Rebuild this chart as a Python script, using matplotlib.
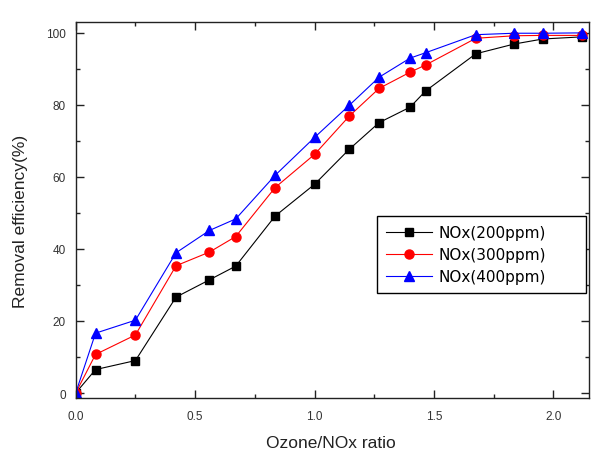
import matplotlib
matplotlib.use("Agg")
import matplotlib.pyplot as plt
from matplotlib.ticker import MultipleLocator, FormatStrFormatter

plt.rcParams['font.family'] = ['Liberation Sans', 'DejaVu Sans']

ratio = [0.0, 0.083, 0.25, 0.42, 0.56, 0.67, 0.835, 1.0, 1.145, 1.27, 1.40, 1.465, 1.675, 1.835, 1.955, 2.12]
nox200 = [0.0, 6.5, 9.0, 26.6, 31.4, 35.2, 49.1, 57.9, 67.6, 75.0, 79.3, 83.8, 94.1, 96.8, 98.2, 98.8]
nox300 = [0.0, 10.7, 16.1, 35.3, 39.1, 43.4, 57.0, 66.2, 76.8, 84.5, 89.0, 91.0, 98.4, 99.1, 99.2, 99.2]
nox400 = [0.0, 16.6, 20.2, 38.9, 45.1, 48.3, 60.4, 70.9, 79.8, 87.6, 92.9, 94.4, 99.4, 99.8, 99.8, 99.9]
labels = ['NOx(200ppm)', 'NOx(300ppm)', 'NOx(400ppm)']

fig = plt.figure(figsize=(6.08, 4.60), dpi=100)
ax = fig.add_axes([75.7/608, 1-398.7/460, (589.3-75.7)/608, (398.7-22.7)/460])

ax.plot(ratio, nox200, color='black', marker='s', ms=5.5, lw=0.8, label=labels[0])
ax.plot(ratio, nox300, color='red', marker='o', ms=6.5, lw=0.8, label=labels[1])
ax.plot(ratio, nox400, color='blue', marker='^', ms=6.5, lw=0.8, label=labels[2])

ax.set_xlim(0, 2.15)
ax.set_ylim(-1.3, 103)
ax.xaxis.set_major_locator(MultipleLocator(0.5))
ax.xaxis.set_minor_locator(MultipleLocator(0.25))
ax.yaxis.set_major_locator(MultipleLocator(20))
ax.yaxis.set_minor_locator(MultipleLocator(10))
ax.xaxis.set_major_formatter(FormatStrFormatter('%.1f'))
ax.tick_params(which='both', direction='in', top=True, right=True, width=1.0,
               colors='#222222', labelcolor='#333333')
ax.tick_params(which='major', length=5.5, labelsize=8.5)
ax.tick_params(which='minor', length=3)
ax.tick_params(axis='y', pad=7)
ax.tick_params(axis='x', pad=8.5)
for s in ax.spines.values():
    s.set_linewidth(1.0)
    s.set_color('#222222')

ax.set_xlabel('Ozone/NOx ratio', fontsize=12.5, color='#222222')
ax.set_ylabel('Removal efficiency(%)', fontsize=12.5, color='#222222')
ax.xaxis.set_label_coords(0.497, -0.100)
ax.yaxis.set_label_coords(-0.092, 0.4726)

leg = ax.legend(loc='upper left', bbox_to_anchor=(0.5866, 0.2, 0.4069, 0.2832),
                mode='expand', borderaxespad=0,
                prop={'family': 'DejaVu Sans', 'size': 11},
                fancybox=False, framealpha=1, edgecolor='black',
                handlelength=3.0, handletextpad=0.45, labelspacing=0.45, borderpad=0.6)
leg.get_frame().set_linewidth(1.0)

fig.savefig('out.png', dpi=100)
